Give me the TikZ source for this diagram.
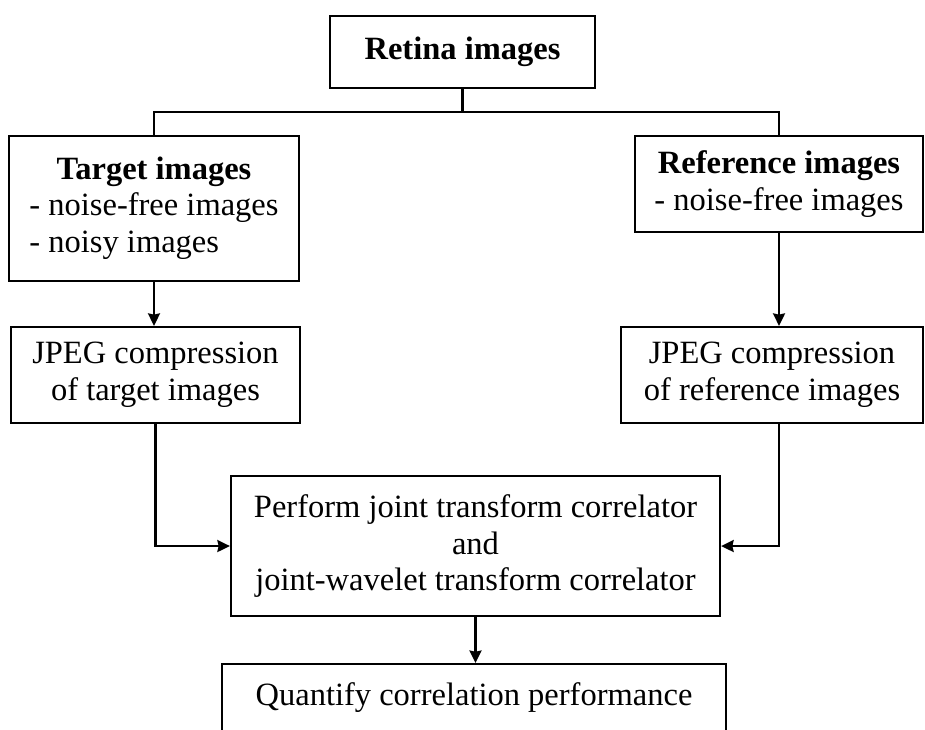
\documentclass[tikz,border=0pt]{standalone}
\usepackage{fontspec}
\setmainfont{Liberation Serif}
\usepackage{tikz}
\usetikzlibrary{arrows,arrows.meta,positioning,calc}

\begin{document}
\begin{tikzpicture}[->,>={Stealth[length=5pt,width=4.8pt,inset=0.5pt]},line width=0.9pt,x=0.4pt,y=-0.4pt,
    blk/.style={draw,rectangle,inner sep=2pt,align=center,font=\fontsize{13}{14.7}\selectfont}]
%
   \useasboundingbox (0,0) rectangle (925,729);
   \node[blk,minimum width=106pt,minimum height=28.8pt]   (N1) at (462.5,52) {\textbf{Retina images}};
   \node[blk,minimum width=116pt,minimum height=58pt]     (N2) at (154,208.5)
        {\begin{tabular}{@{}l@{}}\multicolumn{1}{@{}c@{}}{\textbf{Target images}}\\
         - noise-free images\\ - noisy images\end{tabular}};
   \node[blk,minimum width=115.2pt,minimum height=38.4pt] (N3) at (779,184) {\textbf{Reference images}\\- noise-free images};
   \node[blk,minimum width=115.6pt,minimum height=38.4pt] (N4) at (155.5,375) {JPEG compression\\of target images};
   \node[blk,minimum width=120.8pt,minimum height=38.4pt] (N5) at (772,375) {JPEG compression\\of reference images};
   \node[blk,minimum width=195.6pt,minimum height=56pt]   (N6) at (475.5,546)
        {Perform joint transform correlator\\and\\joint-wavelet transform correlator};
   \node[blk,minimum width=201.6pt,anchor=north,inner ysep=7.4pt,text depth=60pt] (N7) at (474,663)
        {Quantify correlation performance};
%
   \coordinate (B) at (N1.south |- 0,112);
   \draw[-] (N1.south) -- (B);
   \draw[-] (N2.north) |- (B) -| (N3.north);
   \draw (N2.south) -- (N2.south |- N4.north);
   \draw (N3.south) -- (N3.south |- N5.north);
   \draw (N4.south) |- (N6.west);
   \draw (N3.south |- N5.south) |- (N6.east);
   \draw (N6.south) -- (N6.south |- N7.north);
\end{tikzpicture}
\end{document}
